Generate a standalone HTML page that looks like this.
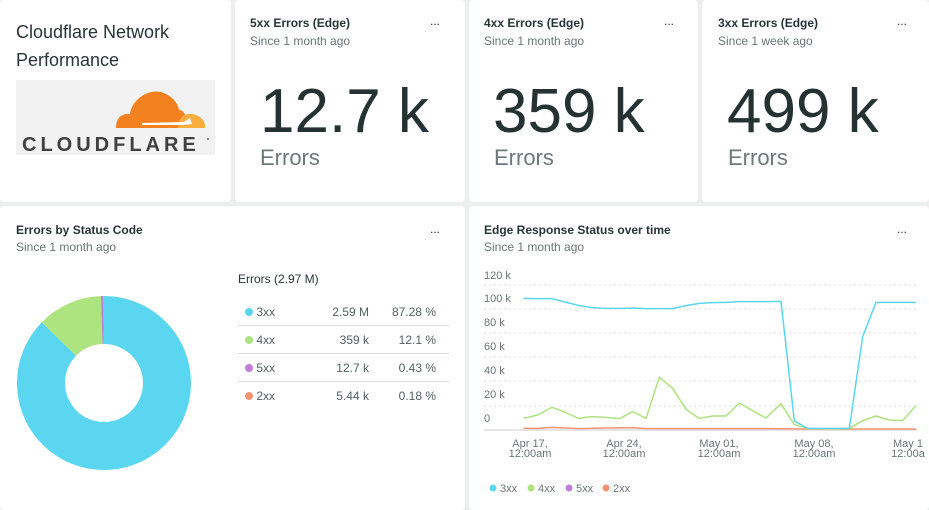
<!DOCTYPE html>
<html><head><meta charset="utf-8"><style>
body{margin:0;width:929px;height:510px;background:#edeeee;font-family:"Liberation Sans",sans-serif;position:relative;overflow:hidden;color:#2a3434}
.c{position:absolute;background:#fff;border-radius:4px}
.t{position:absolute;font-size:12px;font-weight:bold;color:#2a3434}
.s{position:absolute;font-size:12px;color:#6b7474}
.big{position:absolute;font-size:62px;color:#263232}
.u{position:absolute;font-size:22px;color:#6e7878}
.row{position:absolute;left:238px;width:211px;height:28px;font-size:12px;color:#55605f}
.row span{position:absolute;top:8px}
.dot{width:8px;height:8px;border-radius:50%;display:inline-block}
</style></head><body>
<div class="c" style="left:0;top:0;width:231px;height:202px"></div>
<div class="c" style="left:235px;top:0;width:230px;height:202px"></div>
<div class="c" style="left:469px;top:0;width:229px;height:202px"></div>
<div class="c" style="left:702px;top:0;width:227px;height:202px"></div>
<div class="c" style="left:0;top:206px;width:465px;height:304px"></div>
<div class="c" style="left:469px;top:206px;width:460px;height:304px"></div>

<div style="position:absolute;left:16px;top:18px;font-size:18px;line-height:28px;color:#2a3434">Cloudflare Network<br>Performance</div>
<div style="position:absolute;left:16px;top:80px;width:199px;height:75px;background:#f2f2f2"></div>
<svg style="position:absolute;left:16px;top:80px" width="199" height="75">
<path d="M100 48 C100 38 106 33 114 34 C116 18 136 6 150 14 C158 18 162 24 163 30 C167 30 170 34 170 40 L169 48 Z" fill="#f48120"/>
<path d="M162 48 C162 38 168 33 176 34 C184 35 190 41 189 48 Z" fill="#faad3f"/>
<path d="M126 43 L168 42 L174 38 L176 44 L168 45 L126 45 Z" fill="#fff"/>
<text x="6" y="71" font-family="Liberation Sans" font-weight="bold" font-size="20" letter-spacing="4" fill="#404041">CLOUDFLARE</text>
<circle cx="192" cy="59" r="1" fill="#666"/>
</svg>

<div class="t" style="left:250px;top:16px">5xx Errors (Edge)</div><div class="s" style="left:250px;top:34px">Since 1 month ago</div><div class="s" style="left:430px;top:14px;color:#333">...</div>
<div class="big" style="left:260px;top:76px">12.7 k</div><div class="u" style="left:260px;top:145px">Errors</div>
<div class="t" style="left:484px;top:16px">4xx Errors (Edge)</div><div class="s" style="left:484px;top:34px">Since 1 month ago</div><div class="s" style="left:664px;top:14px;color:#333">...</div>
<div class="big" style="left:493px;top:76px">359 k</div><div class="u" style="left:494px;top:145px">Errors</div>
<div class="t" style="left:718px;top:16px">3xx Errors (Edge)</div><div class="s" style="left:718px;top:34px">Since 1 week ago</div><div class="s" style="left:897px;top:14px;color:#333">...</div>
<div class="big" style="left:727px;top:76px">499 k</div><div class="u" style="left:728px;top:145px">Errors</div>

<div class="t" style="left:16px;top:223px">Errors by Status Code</div><div class="s" style="left:16px;top:240px">Since 1 month ago</div><div class="s" style="left:430px;top:222px;color:#333">...</div>
<svg style="position:absolute;left:0;top:0" width="466" height="510">
<g transform="rotate(-90 104 383)" fill="none" stroke-width="48">
<circle cx="104" cy="383" r="63" stroke="#5bd6f0" stroke-dasharray="345.49 400"/>
<circle cx="104" cy="383" r="63" stroke="#aee47f" stroke-dasharray="0 345.49 47.9 400"/>
<circle cx="104" cy="383" r="63" stroke="#c07ed8" stroke-dasharray="0 393.39 1.7 400"/>
<circle cx="104" cy="383" r="63" stroke="#f79272" stroke-dasharray="0 395.09 0.75 400"/>
</g></svg>
<div style="position:absolute;left:238px;top:272px;font-size:12px;color:#2a3434">Errors (2.97 M)</div>
<div class="row" style="top:297px;border-bottom:1px solid #ddd"><span style="left:7px"><i class="dot" style="background:#5bd6f0"></i> 3xx</span><span style="right:80px">2.59 M</span><span style="right:13px">87.28 %</span></div>
<div class="row" style="top:325px;border-bottom:1px solid #ddd"><span style="left:7px"><i class="dot" style="background:#aee47f"></i> 4xx</span><span style="right:80px">359 k</span><span style="right:13px">12.1 %</span></div>
<div class="row" style="top:353px;border-bottom:1px solid #ddd"><span style="left:7px"><i class="dot" style="background:#c07ed8"></i> 5xx</span><span style="right:80px">12.7 k</span><span style="right:13px">0.43 %</span></div>
<div class="row" style="top:381px"><span style="left:7px"><i class="dot" style="background:#f79272"></i> 2xx</span><span style="right:80px">5.44 k</span><span style="right:13px">0.18 %</span></div>

<div class="t" style="left:484px;top:223px">Edge Response Status over time</div><div class="s" style="left:484px;top:240px">Since 1 month ago</div><div class="s" style="left:897px;top:222px;color:#333">...</div>
<svg style="position:absolute;left:0;top:0" width="929" height="510" font-family="Liberation Sans" font-size="11" fill="#6b7474">
<g stroke="#ddd" stroke-dasharray="2 3">
<line x1="484" x2="917" y1="285" y2="285"/><line x1="484" x2="917" y1="309" y2="309"/><line x1="484" x2="917" y1="333" y2="333"/><line x1="484" x2="917" y1="357" y2="357"/><line x1="484" x2="917" y1="381" y2="381"/><line x1="484" x2="917" y1="406" y2="406"/></g>
<line x1="484" x2="917" y1="430" y2="430" stroke="#e5e5e5" stroke-width="2"/>
<text x="484" y="279">120 k</text><text x="484" y="302">100 k</text><text x="484" y="326">80 k</text><text x="484" y="350">60 k</text><text x="484" y="374">40 k</text><text x="484" y="398">20 k</text><text x="484" y="422">0</text>
<g text-anchor="middle"><text x="530" y="447">Apr 17,</text><text x="530" y="457">12:00am</text><text x="624" y="447">Apr 24,</text><text x="624" y="457">12:00am</text><text x="719" y="447">May 01,</text><text x="719" y="457">12:00am</text><text x="814" y="447">May 08,</text><text x="814" y="457">12:00am</text><text x="908" y="447">May 1</text><text x="908" y="457">12:00a</text></g>
<g transform="translate(466 260) scale(0.33333)" fill="none" stroke-width="4.5" stroke-linejoin="round">
<polyline stroke="#f79272" points="172,505 215,505 258,502 300,504 340,506 420,504 500,503 540,506 700,506 900,506 1025,507 1350,507"/>
<polyline stroke="#aee47f" points="172,475 215,465 258,442 296,456 337,475 378,470 420,472 460,476 500,455 540,475 580,352 620,385 660,448 700,475 740,468 780,468 820,429 860,452 900,474 945,431 985,494 1025,505 1065,506 1110,506 1150,505 1190,482 1230,468 1270,480 1310,482 1350,437"/>
<polyline stroke="#5bd6f0" points="172,115 215,116 258,116 296,126 337,136 378,143 420,145 460,145 500,144 540,146 580,146 620,146 660,137 700,130 740,128 780,127 820,125 860,125 900,125 945,124 985,483 1025,505 1065,505 1110,505 1150,505 1190,230 1230,127 1270,127 1310,127 1350,127"/>
</g>
<g font-size="11"><circle cx="493" cy="488" r="3.5" fill="#5bd6f0"/><text x="500" y="492">3xx</text>
<circle cx="531" cy="488" r="3.5" fill="#aee47f"/><text x="538" y="492">4xx</text>
<circle cx="569" cy="488" r="3.5" fill="#c07ed8"/><text x="576" y="492">5xx</text>
<circle cx="606" cy="488" r="3.5" fill="#f79272"/><text x="613" y="492">2xx</text></g>
</svg>
</body></html>
